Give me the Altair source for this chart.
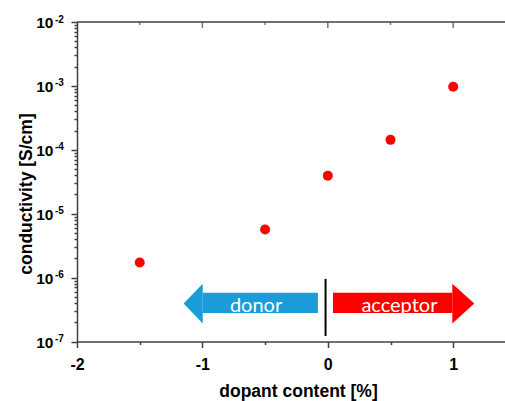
import altair as alt
import pandas as pd

# Measured conductivity vs dopant content
dopant = [-1.5, -0.5, 0.0, 0.5, 1.0]
conductivity = [1.72e-6, 5.66e-6, 3.94e-5, 1.43e-4, 9.7e-4]

# Axis tick positions
x_ticks = [-2, -1.5, -1, -0.5, 0, 0.5, 1]
decades = [-7, -6, -5, -4, -3, -2]
y_ticks = [m * 10.0 ** d for d in decades[:-1] for m in range(1, 10)] + [1e-2]

# Donor / acceptor arrows (data coordinates)
arrow_names = ["donor", "acceptor"]
arrow_colors = ["#1a9cd8", "#ff0000"]
body_inner = [-0.079, 0.041]
body_outer = [-0.997, 0.993]
arrow_tip = [-1.15, 1.168]
label_x = [-0.572, 0.571]
body_top, body_bottom = 5.77e-7, 2.80e-7
head_top, head_bottom = 7.98e-7, 1.91e-7
tip_level = 3.94e-7
label_level = 2.93e-7
divider_x, divider_lo, divider_hi = -0.018, 1.22e-7, 9.55e-7

AXIS_COLOR = "#404040"
FONT = "Liberation Sans"

xscale = alt.Scale(domain=[-2, 1.413], nice=False, zero=False)
yscale = alt.Scale(type="log", domain=[1e-7, 1e-2], nice=False)

x_axis = alt.Axis(
    values=x_ticks,
    labelExpr="datum.value % 1 == 0 ? '' + datum.value : ''",
    tickSize={"condition": {"test": "datum.value % 1 == 0", "value": 6}, "value": 3},
    tickColor=AXIS_COLOR, tickWidth=1.5,
    domainColor=AXIS_COLOR, domainWidth=1.5,
    labelFont=FONT, labelFontWeight="bold", labelFontSize=16, labelColor="black",
    labelPadding=9, labelFlush=False, labelOverlap=False, grid=False,
    title="dopant content [%]", titleFont=FONT, titleFontWeight="bold",
    titleFontSize=17.5, titleColor="black", titleX=221, titleY=49.5,
    titleAlign="center", titleBaseline="middle",
)

y_axis = alt.Axis(
    values=y_ticks, labels=False,
    tickSize={"condition": {"test": "abs(log(datum.value)/LN10 - round(log(datum.value)/LN10)) < 0.001", "value": 6}, "value": 3},
    tickColor=AXIS_COLOR, tickWidth=1.5,
    domainColor=AXIS_COLOR, domainWidth=1.5, grid=False,
    title="conductivity [S/cm]", titleFont=FONT, titleFontWeight="bold",
    titleFontSize=17.5, titleColor="black", titleX=-51, titleY=171.5,
    titleAlign="center", titleBaseline="middle", titleAngle=270,
)


def xenc(field="x"):
    return alt.X(f"{field}:Q", scale=xscale, axis=x_axis)


def yenc(field="y"):
    return alt.Y(f"{field}:Q", scale=yscale, axis=y_axis)


points_df = pd.DataFrame({"x": dopant, "y": conductivity})
points = alt.Chart(points_df).mark_circle(size=100, color="#ff0000", opacity=1).encode(
    x=xenc(), y=yenc(),
)

# top frame line with inward ticks
top_rule = alt.Chart(pd.DataFrame({"y": [1e-2]})).mark_rule(color=AXIS_COLOR, strokeWidth=1.5).encode(y=yenc())
top_df = pd.DataFrame({"x": x_ticks, "y": [1e-2] * len(x_ticks),
                       "major": [v % 1 == 0 for v in x_ticks]})
top_major = alt.Chart(top_df).transform_filter("datum.major").mark_tick(
    orient="vertical", size=12, thickness=1.5, color=AXIS_COLOR, clip=True
).encode(x=xenc(), y=yenc())
top_minor = alt.Chart(top_df).transform_filter("!datum.major").mark_tick(
    orient="vertical", size=6, thickness=1.5, color=AXIS_COLOR, clip=True
).encode(x=xenc(), y=yenc())

# y tick labels: base "10" with superscript exponent
ylab_df = pd.DataFrame({"x": [-2] * len(decades), "y": [10.0 ** d for d in decades],
                        "exp": [str(d) for d in decades]})
ylab_base = alt.Chart(ylab_df).mark_text(
    text="10", align="right", baseline="middle", dx=-23.5, dy=1,
    font=FONT, fontWeight="bold", fontSize=15.5, color="black"
).encode(x=xenc(), y=yenc())
ylab_exp = alt.Chart(ylab_df).mark_text(
    align="left", baseline="alphabetic", dx=-22, dy=0.5,
    font=FONT, fontWeight="bold", fontSize=10, color="black"
).encode(x=xenc(), y=yenc(), text="exp:N")

# arrows
body_df = pd.DataFrame({"x": body_inner, "x2": body_outer,
                        "y": [body_bottom] * 2, "y2": [body_top] * 2, "c": arrow_colors})
bodies = alt.Chart(body_df).mark_rect().encode(
    x=xenc(), x2="x2:Q", y=yenc(), y2="y2:Q",
    color=alt.Color("c:N", scale=None),
)
head_rows = []
for name, col, base, tip in zip(arrow_names, arrow_colors, body_outer, arrow_tip):
    head_rows.append({"name": name, "c": col, "x": base, "lo": head_bottom, "hi": head_top})
    head_rows.append({"name": name, "c": col, "x": tip, "lo": tip_level, "hi": tip_level})
heads = alt.Chart(pd.DataFrame(head_rows)).mark_area(opacity=1, interpolate="linear").encode(
    x=xenc(), y=yenc("lo"), y2="hi:Q",
    color=alt.Color("c:N", scale=None),
    detail="name:N",
)
arrow_text = alt.Chart(pd.DataFrame({"x": label_x, "y": [label_level] * 2, "t": arrow_names})).mark_text(
    align="center", baseline="alphabetic", font="Lato", fontSize=20, color="white"
).encode(x=xenc(), y=yenc(), text="t:N")

divider = alt.Chart(pd.DataFrame({"x": [divider_x], "y": [divider_lo], "y2": [divider_hi]})).mark_rule(
    color="black", strokeWidth=2
).encode(x=xenc(), y=yenc(), y2="y2:Q")

chart = alt.layer(
    bodies, heads, arrow_text, divider, points, top_rule, top_major, top_minor, ylab_base, ylab_exp
).properties(
    width=428, height=319.5,
    padding={"left": 77, "top": 22, "right": 0, "bottom": 59.5},
    autosize="none", background="white",
).configure_view(stroke=None)

chart.save("out.html", embed_options={"renderer": "svg", "actions": False})
